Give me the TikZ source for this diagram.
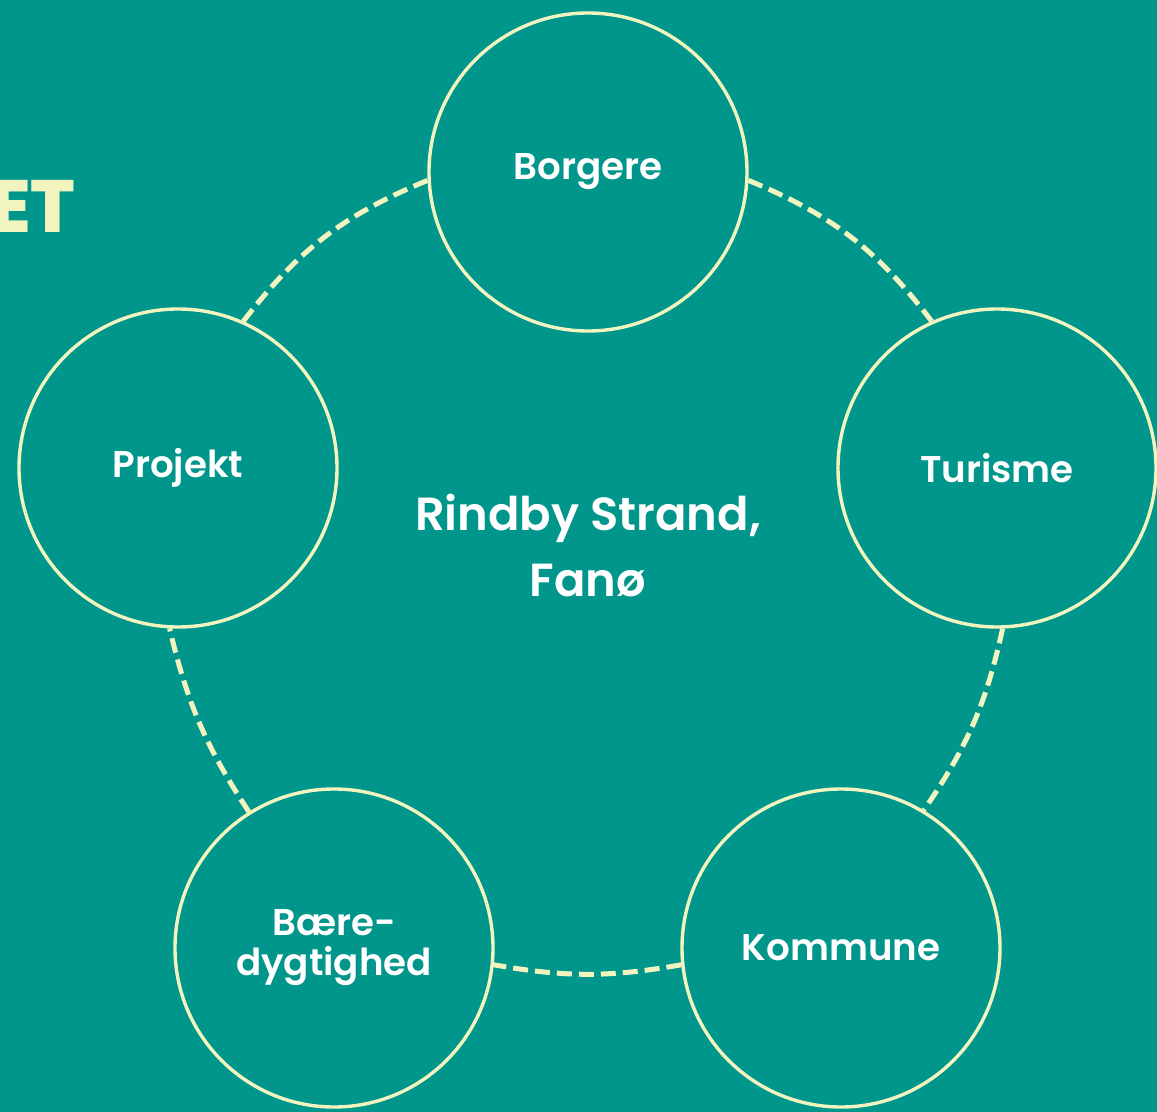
\documentclass[tikz,border=0pt]{standalone}
\usepackage{fontspec}
\setmainfont{Poppins}[UprightFont=* Medium, BoldFont=* SemiBold]
\newfontfamily\headfont{Poppins ExtraBold}
\definecolor{seagreen}{RGB}{0,150,139}
\definecolor{cream}{RGB}{242,244,192}

\begin{document}
\begin{tikzpicture}[x=0.5pt, y=-0.5pt,
    hub/.style={circle, draw=cream, line width=1.7pt, minimum size=159pt, inner sep=0pt,
        text=white, align=center, font=\bfseries\fontsize{18.6}{20}\selectfont},
    link/.style={draw=cream, line width=2.5pt, dash pattern=on 7.5pt off 3.5pt}]

    \fill[seagreen] (0,0) rectangle (1157,1112);
    \useasboundingbox (0,0) rectangle (1157,1112);

%heading, cut by the page edge
    \node[anchor=base east, inner sep=0pt, text=cream, font=\headfont\fontsize{37}{40}\selectfont] (head) at (76,233) {ET};

%circles
    \node[hub] (bor) at (588,172) {Borgere};
    \node[hub] (tur) at (997,468) {Turisme};
    \node[hub] (kom) at (841,948) {Kommune};
    \node[hub] (bae) at (334,948) {Bære-\\dygtighed};
    \node[hub] (pro) at (178,468) {Projekt};

    \node[text=white, align=center, font=\bfseries\fontsize{23.2}{33}\selectfont] (place) at (588,546) {Rindby Strand,\\Fanø};

%dashed ring
    \draw[link] (bor.-3) to[bend left=15] (tur.114);
    \draw[link] (tur.-88) to[bend left=11] (kom.59);
    \draw[link] (kom.186) to[bend left=10] (bae.-6);
    \draw[link] (bae.122) to[bend left=10] (pro.267);
    \draw[link] (pro.66) to[bend left=15] (bor.183);

\end{tikzpicture}
\end{document}
